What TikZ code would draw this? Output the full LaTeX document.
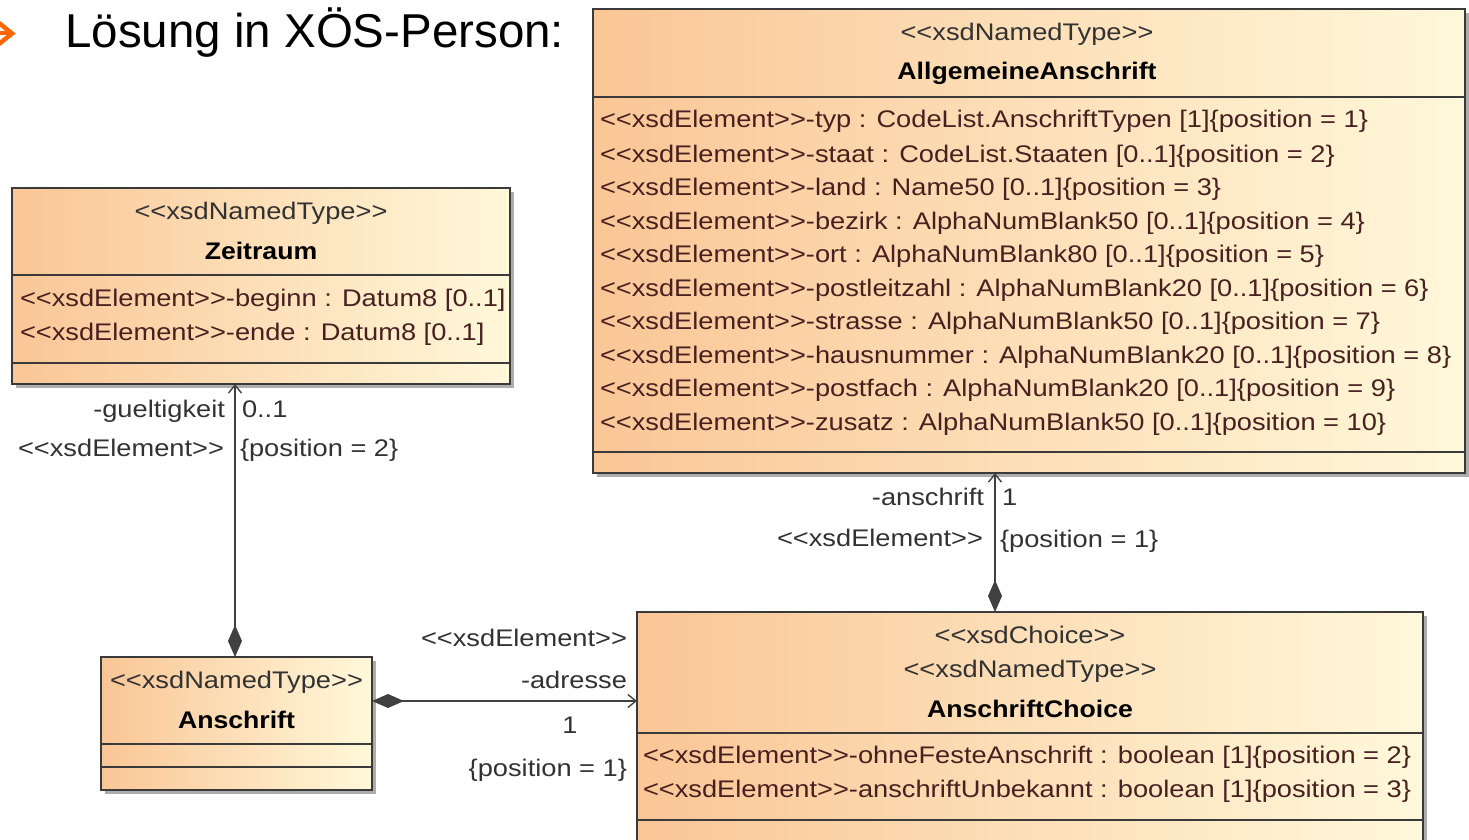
\documentclass[tikz,border=0pt]{standalone}
\usepackage{fontspec}
\setmainfont{Liberation Sans}
\newfontfamily\umlfont[FakeStretch=1.135]{Liberation Sans}
\newfontfamily\umlbold[FakeStretch=1.11]{Liberation Sans}
\usetikzlibrary{arrows.meta,shadows}

\definecolor{umlline}{RGB}{64,64,64}
\definecolor{umlborder}{RGB}{58,58,58}
\definecolor{attrtext}{RGB}{72,32,32}
\definecolor{stereotext}{RGB}{50,50,50}
\definecolor{fillleft}{RGB}{250,198,150}
\definecolor{fillright}{RGB}{255,248,218}
\definecolor{bulletorange}{RGB}{255,102,0}

% stereotype brackets without ligatures
\newcommand\stt[1]{<{}<#1>{}>}

\begin{document}
\begin{tikzpicture}[x=1pt,y=-1pt,
  classbox/.style={draw=umlborder, line width=1.8pt, left color=fillleft, right color=fillright,
    inner sep=0pt, outer sep=0pt, anchor=north west,
    drop shadow={shadow xshift=4pt, shadow yshift=-4pt, fill=black!32, opacity=1}},
  sepline/.style={draw=umlborder, line width=1.6pt},
  umltext/.style={font=\umlfont\fontsize{24}{28}\selectfont, inner sep=0pt, outer sep=0pt},
  stereo/.style={umltext, text=stereotext, anchor=base},
  cname/.style={umltext, font=\umlbold\fontsize{24}{28}\selectfont\bfseries, text=black, anchor=base},
  attr/.style={umltext, text=attrtext, anchor=base west},
  lbl/.style={umltext, text=stereotext},
  comp/.style={draw=umlline, line width=1.6pt,
    {Diamond[length=32pt,width=14pt,fill=umlline]}-{Straight Barb[length=8pt,width=13pt,line width=1.4pt]}}
]
\useasboundingbox (0,0) rectangle (1469,840);
\clip (0,0) rectangle (1469,840);

% heading with bullet arrow
\draw[bulletorange, line width=4.5pt] (-1,23) -- (12,33.5) -- (-1,44);
\draw[bulletorange, line width=4pt] (-1,33.5) -- (9,33.5);
\node[anchor=base west, inner sep=0pt, font=\fontsize{47.5}{56}\selectfont] (title) at (65,48) {Lösung in XÖS-Person:};

% class boxes
\node[classbox, minimum width=872pt, minimum height=464pt] (allg) at (593,9) {};
\node[classbox, minimum width=498pt, minimum height=196pt] (zeit) at (12,188) {};
\node[classbox, minimum width=271pt, minimum height=133pt] (anschrift) at (101,657) {};
\node[classbox, minimum width=786pt, minimum height=250pt] (choice) at (637,612) {};

% compartment separators
\draw[sepline] (allg.west |- 0,97) -- (allg.east |- 0,97);
\draw[sepline] (allg.west |- 0,452) -- (allg.east |- 0,452);
\draw[sepline] (zeit.west |- 0,275) -- (zeit.east |- 0,275);
\draw[sepline] (zeit.west |- 0,363) -- (zeit.east |- 0,363);
\draw[sepline] (anschrift.west |- 0,744) -- (anschrift.east |- 0,744);
\draw[sepline] (anschrift.west |- 0,767) -- (anschrift.east |- 0,767);
\draw[sepline] (choice.west |- 0,733) -- (choice.east |- 0,733);
\draw[sepline] (choice.west |- 0,820) -- (choice.east |- 0,820);

% AllgemeineAnschrift
\node[stereo] (allgst) at (1027,41) {\stt{xsdNamedType}};
\node[cname] (allgnm) at (1027,80) {AllgemeineAnschrift};
\node[attr] (a1) at (600,128) {\stt{xsdElement}-typ : CodeList.AnschriftTypen [1]\{position = 1\}};
\node[attr] (a2) at (600,162) {\stt{xsdElement}-staat : CodeList.Staaten [0..1]\{position = 2\}};
\node[attr] (a3) at (600,195) {\stt{xsdElement}-land : Name50 [0..1]\{position = 3\}};
\node[attr] (a4) at (600,229) {\stt{xsdElement}-bezirk : AlphaNumBlank50 [0..1]\{position = 4\}};
\node[attr] (a5) at (600,262) {\stt{xsdElement}-ort : AlphaNumBlank80 [0..1]\{position = 5\}};
\node[attr] (a6) at (600,296) {\stt{xsdElement}-postleitzahl : AlphaNumBlank20 [0..1]\{position = 6\}};
\node[attr] (a7) at (600,329) {\stt{xsdElement}-strasse : AlphaNumBlank50 [0..1]\{position = 7\}};
\node[attr] (a8) at (600,363) {\stt{xsdElement}-hausnummer : AlphaNumBlank20 [0..1]\{position = 8\}};
\node[attr] (a9) at (600,396) {\stt{xsdElement}-postfach : AlphaNumBlank20 [0..1]\{position = 9\}};
\node[attr] (a10) at (600,430) {\stt{xsdElement}-zusatz : AlphaNumBlank50 [0..1]\{position = 10\}};

% Zeitraum
\node[stereo] (zeitst) at (261,219) {\stt{xsdNamedType}};
\node[cname] (zeitnm) at (261,259) {Zeitraum};
\node[attr] (z1) at (20,306) {\stt{xsdElement}-beginn : Datum8 [0..1]};
\node[attr] (z2) at (20,340) {\stt{xsdElement}-ende : Datum8 [0..1]};

% Anschrift
\node[stereo] (anst) at (236.5,688) {\stt{xsdNamedType}};
\node[cname] (annm) at (236.5,728) {Anschrift};

% AnschriftChoice
\node[stereo] (chst1) at (1030,643) {\stt{xsdChoice}};
\node[stereo] (chst2) at (1030,677) {\stt{xsdNamedType}};
\node[cname] (chnm) at (1030,717) {AnschriftChoice};
\node[attr] (c1) at (643,763) {\stt{xsdElement}-ohneFesteAnschrift : boolean [1]\{position = 2\}};
\node[attr] (c2) at (643,797) {\stt{xsdElement}-anschriftUnbekannt : boolean [1]\{position = 3\}};

% compositions
\draw[comp] ([xshift=-1.5pt]anschrift.north) -- ([xshift=-1.5pt]anschrift.north |- zeit.south);
\draw[comp] ([yshift=22.5pt]anschrift.east) -- ([yshift=22.5pt]anschrift.east -| choice.west);
\draw[comp] ([xshift=-35pt]choice.north) -- ([xshift=-35pt]choice.north |- allg.south);

% association end labels
\node[lbl, anchor=base east] (l1) at (225,417) {-gueltigkeit};
\node[lbl, anchor=base west] (l2) at (242,417) {0..1};
\node[lbl, anchor=base east] (l3) at (224,456) {\stt{xsdElement}};
\node[lbl, anchor=base west] (l4) at (240,456) {\{position = 2\}};

\node[lbl, anchor=base east] (l5) at (627,646) {\stt{xsdElement}};
\node[lbl, anchor=base east] (l6) at (627,688) {-adresse};
\node[lbl, anchor=base] (l7) at (570,733) {1};
\node[lbl, anchor=base east] (l8) at (627,776) {\{position = 1\}};

\node[lbl, anchor=base east] (l9) at (984,505) {-anschrift};
\node[lbl, anchor=base west] (l10) at (1002,505) {1};
\node[lbl, anchor=base east] (l11) at (983,546) {\stt{xsdElement}};
\node[lbl, anchor=base west] (l12) at (1000,547) {\{position = 1\}};
\end{tikzpicture}
\end{document}
